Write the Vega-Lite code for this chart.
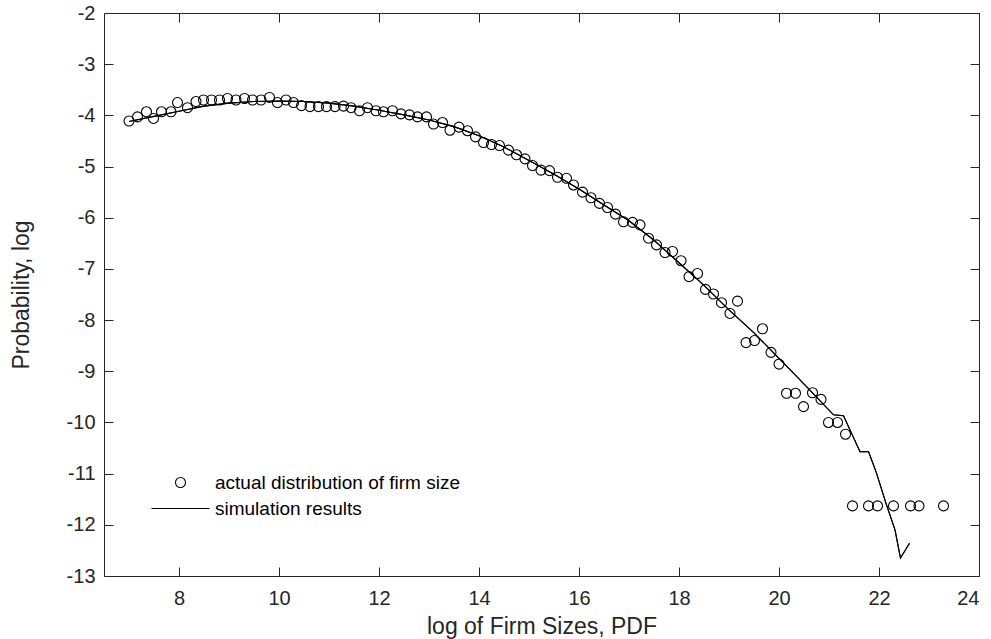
{
  "$schema": "https://vega.github.io/schema/vega-lite/v6.json",
  "width": 875,
  "height": 563,
  "autosize": "none",
  "padding": {"left": 104, "top": 13, "right": 12, "bottom": 63},
  "background": "white",
  "config": {
    "view": {"stroke": "#262626", "strokeWidth": 1},
    "axis": {
      "grid": false,
      "domain": false,
      "tickColor": "#262626",
      "tickWidth": 1,
      "labelColor": "#262626",
      "titleColor": "#262626",
      "labelFont": "Liberation Sans",
      "titleFont": "Liberation Sans",
      "labelFontSize": 20,
      "titleFontSize": 23,
      "titleFontWeight": "normal",
      "tickSize": 9
    },
    "legend": {
      "labelFont": "Liberation Sans",
      "labelFontSize": 19,
      "labelColor": "black",
      "labelLimit": 0
    }
  },
  "data": {
    "values": [
      {"x": 7.00, "y": -4.11, "s": "actual"},
      {"x": 7.17, "y": -4.03, "s": "actual"},
      {"x": 7.35, "y": -3.93, "s": "actual"},
      {"x": 7.49, "y": -4.06, "s": "actual"},
      {"x": 7.65, "y": -3.93, "s": "actual"},
      {"x": 7.84, "y": -3.93, "s": "actual"},
      {"x": 7.97, "y": -3.75, "s": "actual"},
      {"x": 8.17, "y": -3.85, "s": "actual"},
      {"x": 8.34, "y": -3.73, "s": "actual"},
      {"x": 8.49, "y": -3.70, "s": "actual"},
      {"x": 8.65, "y": -3.70, "s": "actual"},
      {"x": 8.81, "y": -3.70, "s": "actual"},
      {"x": 8.97, "y": -3.67, "s": "actual"},
      {"x": 9.14, "y": -3.70, "s": "actual"},
      {"x": 9.31, "y": -3.67, "s": "actual"},
      {"x": 9.47, "y": -3.70, "s": "actual"},
      {"x": 9.64, "y": -3.70, "s": "actual"},
      {"x": 9.81, "y": -3.65, "s": "actual"},
      {"x": 9.97, "y": -3.75, "s": "actual"},
      {"x": 10.14, "y": -3.70, "s": "actual"},
      {"x": 10.29, "y": -3.75, "s": "actual"},
      {"x": 10.45, "y": -3.81, "s": "actual"},
      {"x": 10.62, "y": -3.83, "s": "actual"},
      {"x": 10.79, "y": -3.83, "s": "actual"},
      {"x": 10.95, "y": -3.83, "s": "actual"},
      {"x": 11.12, "y": -3.83, "s": "actual"},
      {"x": 11.29, "y": -3.82, "s": "actual"},
      {"x": 11.44, "y": -3.85, "s": "actual"},
      {"x": 11.61, "y": -3.91, "s": "actual"},
      {"x": 11.77, "y": -3.85, "s": "actual"},
      {"x": 11.94, "y": -3.91, "s": "actual"},
      {"x": 12.09, "y": -3.93, "s": "actual"},
      {"x": 12.27, "y": -3.91, "s": "actual"},
      {"x": 12.44, "y": -3.97, "s": "actual"},
      {"x": 12.61, "y": -3.99, "s": "actual"},
      {"x": 12.77, "y": -4.03, "s": "actual"},
      {"x": 12.95, "y": -4.03, "s": "actual"},
      {"x": 13.09, "y": -4.17, "s": "actual"},
      {"x": 13.27, "y": -4.14, "s": "actual"},
      {"x": 13.42, "y": -4.29, "s": "actual"},
      {"x": 13.60, "y": -4.23, "s": "actual"},
      {"x": 13.77, "y": -4.30, "s": "actual"},
      {"x": 13.93, "y": -4.42, "s": "actual"},
      {"x": 14.09, "y": -4.53, "s": "actual"},
      {"x": 14.25, "y": -4.57, "s": "actual"},
      {"x": 14.41, "y": -4.59, "s": "actual"},
      {"x": 14.59, "y": -4.68, "s": "actual"},
      {"x": 14.75, "y": -4.77, "s": "actual"},
      {"x": 14.92, "y": -4.85, "s": "actual"},
      {"x": 15.07, "y": -4.98, "s": "actual"},
      {"x": 15.24, "y": -5.07, "s": "actual"},
      {"x": 15.41, "y": -5.08, "s": "actual"},
      {"x": 15.57, "y": -5.21, "s": "actual"},
      {"x": 15.75, "y": -5.23, "s": "actual"},
      {"x": 15.89, "y": -5.36, "s": "actual"},
      {"x": 16.07, "y": -5.50, "s": "actual"},
      {"x": 16.24, "y": -5.61, "s": "actual"},
      {"x": 16.41, "y": -5.72, "s": "actual"},
      {"x": 16.57, "y": -5.80, "s": "actual"},
      {"x": 16.73, "y": -5.93, "s": "actual"},
      {"x": 16.89, "y": -6.08, "s": "actual"},
      {"x": 17.07, "y": -6.09, "s": "actual"},
      {"x": 17.22, "y": -6.14, "s": "actual"},
      {"x": 17.39, "y": -6.40, "s": "actual"},
      {"x": 17.55, "y": -6.53, "s": "actual"},
      {"x": 17.72, "y": -6.68, "s": "actual"},
      {"x": 17.87, "y": -6.66, "s": "actual"},
      {"x": 18.04, "y": -6.84, "s": "actual"},
      {"x": 18.20, "y": -7.15, "s": "actual"},
      {"x": 18.37, "y": -7.09, "s": "actual"},
      {"x": 18.53, "y": -7.40, "s": "actual"},
      {"x": 18.69, "y": -7.49, "s": "actual"},
      {"x": 18.85, "y": -7.66, "s": "actual"},
      {"x": 19.02, "y": -7.87, "s": "actual"},
      {"x": 19.17, "y": -7.63, "s": "actual"},
      {"x": 19.34, "y": -8.44, "s": "actual"},
      {"x": 19.51, "y": -8.40, "s": "actual"},
      {"x": 19.67, "y": -8.17, "s": "actual"},
      {"x": 19.84, "y": -8.63, "s": "actual"},
      {"x": 20.00, "y": -8.86, "s": "actual"},
      {"x": 20.15, "y": -9.43, "s": "actual"},
      {"x": 20.33, "y": -9.43, "s": "actual"},
      {"x": 20.49, "y": -9.69, "s": "actual"},
      {"x": 20.67, "y": -9.42, "s": "actual"},
      {"x": 20.84, "y": -9.55, "s": "actual"},
      {"x": 20.99, "y": -10.00, "s": "actual"},
      {"x": 21.17, "y": -10.00, "s": "actual"},
      {"x": 21.33, "y": -10.23, "s": "actual"},
      {"x": 21.47, "y": -11.63, "s": "actual"},
      {"x": 21.79, "y": -11.63, "s": "actual"},
      {"x": 21.97, "y": -11.63, "s": "actual"},
      {"x": 22.29, "y": -11.63, "s": "actual"},
      {"x": 22.63, "y": -11.63, "s": "actual"},
      {"x": 22.80, "y": -11.63, "s": "actual"},
      {"x": 23.29, "y": -11.63, "s": "actual"},
      {"x": 7.0, "y": -4.12, "s": "sim"},
      {"x": 7.5, "y": -4.02, "s": "sim"},
      {"x": 8.0, "y": -3.92, "s": "sim"},
      {"x": 8.5, "y": -3.82, "s": "sim"},
      {"x": 9.0, "y": -3.76, "s": "sim"},
      {"x": 9.5, "y": -3.73, "s": "sim"},
      {"x": 10.0, "y": -3.72, "s": "sim"},
      {"x": 10.5, "y": -3.73, "s": "sim"},
      {"x": 11.0, "y": -3.76, "s": "sim"},
      {"x": 11.5, "y": -3.82, "s": "sim"},
      {"x": 12.0, "y": -3.90, "s": "sim"},
      {"x": 12.5, "y": -3.99, "s": "sim"},
      {"x": 13.0, "y": -4.09, "s": "sim"},
      {"x": 13.5, "y": -4.22, "s": "sim"},
      {"x": 14.0, "y": -4.40, "s": "sim"},
      {"x": 14.5, "y": -4.62, "s": "sim"},
      {"x": 15.0, "y": -4.88, "s": "sim"},
      {"x": 15.5, "y": -5.15, "s": "sim"},
      {"x": 16.0, "y": -5.44, "s": "sim"},
      {"x": 16.5, "y": -5.75, "s": "sim"},
      {"x": 17.0, "y": -6.06, "s": "sim"},
      {"x": 17.5, "y": -6.44, "s": "sim"},
      {"x": 18.0, "y": -6.88, "s": "sim"},
      {"x": 18.5, "y": -7.32, "s": "sim"},
      {"x": 19.0, "y": -7.80, "s": "sim"},
      {"x": 19.5, "y": -8.25, "s": "sim"},
      {"x": 20.0, "y": -8.75, "s": "sim"},
      {"x": 20.42, "y": -9.17, "s": "sim"},
      {"x": 21.09, "y": -9.85, "s": "sim"},
      {"x": 21.29, "y": -9.87, "s": "sim"},
      {"x": 21.62, "y": -10.57, "s": "sim"},
      {"x": 21.79, "y": -10.57, "s": "sim"},
      {"x": 21.95, "y": -10.99, "s": "sim"},
      {"x": 22.14, "y": -11.58, "s": "sim"},
      {"x": 22.32, "y": -12.10, "s": "sim"},
      {"x": 22.43, "y": -12.65, "s": "sim"},
      {"x": 22.61, "y": -12.36, "s": "sim"}
    ]
  },
  "layer": [
    {
      "transform": [{"filter": "datum.s === 'actual'"}],
      "mark": {"type": "point", "filled": false, "stroke": "black", "strokeWidth": 1.1, "size": 100, "opacity": 1},
      "encoding": {
        "x": {"field": "x", "type": "quantitative", "scale": {"domain": [6.5, 24], "nice": false, "zero": false},
              "axis": {"orient": "bottom", "title": "log of Firm Sizes, PDF", "values": [8, 10, 12, 14, 16, 18, 20, 22, 24], "ticks": false, "labelPadding": 12, "titlePadding": 7}},
        "y": {"field": "y", "type": "quantitative", "scale": {"domain": [-13, -2], "nice": false, "zero": false},
              "axis": {"orient": "left", "title": "Probability, log", "values": [-13, -12, -11, -10, -9, -8, -7, -6, -5, -4, -3, -2], "labelExpr": "'' + datum.value", "ticks": false, "labelPadding": 9, "titlePadding": 33}},
        "shape": {"field": "label", "type": "nominal",
                  "scale": {"domain": ["actual distribution of firm size", "simulation results"], "range": ["circle", "M-5.8,0H5.8"]},
                  "legend": {"orient": "none", "legendX": 67, "legendY": 460, "title": null, "padding": 0, "rowPadding": 6, "labelOffset": 25, "symbolSize": 100, "symbolStrokeColor": "black", "symbolStrokeWidth": 1.1}}
      }
    },
    {
      "transform": [{"filter": "datum.s === 'sim'"}],
      "mark": {"type": "line", "color": "black", "strokeWidth": 1.1},
      "encoding": {
        "x": {"field": "x", "type": "quantitative", "axis": {"orient": "top", "offset": -563, "labels": false, "title": null, "values": [8, 10, 12, 14, 16, 18, 20, 22, 24]}},
        "y": {"field": "y", "type": "quantitative", "axis": {"orient": "right", "offset": -875, "labels": false, "title": null, "values": [-13, -12, -11, -10, -9, -8, -7, -6, -5, -4, -3, -2]}}
      }
    },
    {
      "transform": [{"filter": "datum.s === 'sim'"}],
      "mark": {"type": "line", "color": "black", "strokeWidth": 1.1},
      "encoding": {
        "x": {"field": "x", "type": "quantitative", "axis": {"orient": "bottom", "offset": -563, "labels": false, "title": null, "values": [8, 10, 12, 14, 16, 18, 20, 22, 24]}},
        "y": {"field": "y", "type": "quantitative", "axis": {"orient": "left", "offset": -875, "labels": false, "title": null, "values": [-13, -12, -11, -10, -9, -8, -7, -6, -5, -4, -3, -2]}}
      }
    }
  ],
  "resolve": {"axis": {"x": "independent", "y": "independent"}}
}
